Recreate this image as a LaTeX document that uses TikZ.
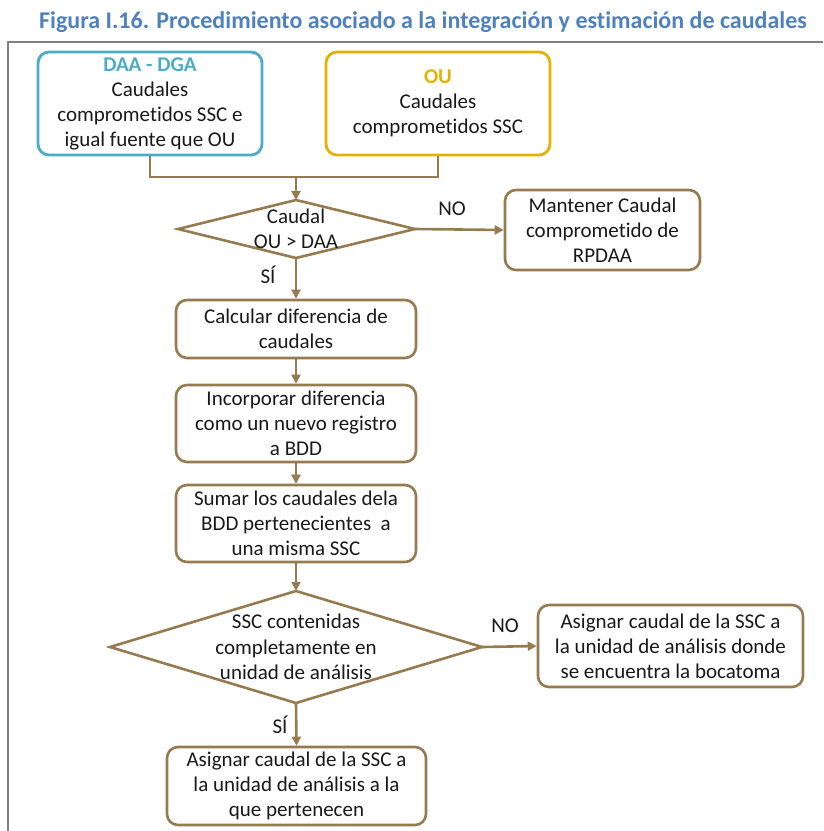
\documentclass[tikz,border=0pt]{standalone}
\usepackage{fontspec}
\setmainfont{Carlito}[Ligatures=NoCommon]
\usetikzlibrary{arrows.meta}
\definecolor{tan}{RGB}{150,122,80}
\definecolor{teal}{RGB}{75,172,198}
\definecolor{gold}{RGB}{228,178,0}
\definecolor{titleblue}{RGB}{79,129,189}
\definecolor{framegray}{RGB}{128,128,128}
\definecolor{ink}{RGB}{25,25,25}
\tikzset{
  box/.style={draw=tan, line width=2.6pt, rounded corners=11pt, align=center,
    inner sep=0pt, text=ink, font=\fontsize{21}{25}\selectfont},
  srcbox/.style={box, line width=2.8pt},
  decision/.style={draw=tan, line width=2.6pt, line join=miter},
  label/.style={inner sep=0pt, text=ink, font=\fontsize{21}{25.5}\selectfont, align=center},
  link/.style={draw=tan, line width=2.6pt},
  arrow/.style={link, -{Triangle[length=9pt,width=9pt]}},
}
\begin{document}
\begin{tikzpicture}[x=1pt,y=-1pt]
\useasboundingbox (0,0) rectangle (823,831);

% title and frame
\node[inner sep=0pt, text=titleblue, font=\fontsize{24}{28}\selectfont\bfseries] (title) at (423,22)
  {Figura I.16. Procedimiento asociado a la integración y estimación de caudales};
\draw[framegray, line width=2pt] (823,42) -- (7.5,42) -- (7.5,831);

% sources
\node[srcbox, draw=teal, minimum width=224pt, minimum height=103pt] (daa) at (150,103.5)
  {{\bfseries\color{teal}DAA - DGA}\\Caudales\\comprometidos SSC e\\igual fuente que OU};
\node[srcbox, draw=gold, minimum width=224pt, minimum height=103pt] (ou) at (438,103.5)
  {{\bfseries\color{gold}OU}\\Caudales\\comprometidos SSC};
\coordinate (join) at (296,177);

% first decision
\coordinate (d1t) at (296,200);
\coordinate (d1l) at (178,229);
\coordinate (d1r) at (415,229);
\coordinate (d1b) at (296,258);
\draw[decision] (d1t) -- (d1r) -- (d1b) -- (d1l) -- cycle;
\node[label] (d1text) at (296,229) {Caudal\\OU > DAA};

\node[box, minimum width=195pt, minimum height=80pt] (keep) at (602.5,230)
  {Mantener Caudal\\comprometido de\\RPDAA};

% main sequence
\node[box, minimum width=240pt, minimum height=58pt] (calc) at (296,329)
  {Calcular diferencia de\\caudales};
\node[box, minimum width=240pt, minimum height=77pt] (incorp) at (296,423.5)
  {Incorporar diferencia\\como un nuevo registro\\a BDD};
\node[box, minimum width=240pt, minimum height=77pt] (sum) at (296,523.5)
  {Sumar los caudales dela\\BDD pertenecientes\ \ a\\una misma SSC};

% second decision
\coordinate (d2t) at (296,591);
\coordinate (d2l) at (110,647);
\coordinate (d2r) at (482,647);
\coordinate (d2b) at (296,703);
\draw[decision] (d2t) -- (d2r) -- (d2b) -- (d2l) -- cycle;
\node[label] (d2text) at (296,647) {SSC contenidas\\completamente en\\unidad de análisis};

\node[box, minimum width=265pt, minimum height=82pt] (assignR) at (670.5,646)
  {Asignar caudal de la SSC a\\la unidad de análisis donde\\se encuentra la bocatoma};
\node[box, minimum width=259pt, minimum height=78pt] (assignB) at (296.5,786)
  {Asignar caudal de la SSC a\\la unidad de análisis a la\\que pertenecen};

% connectors
\draw[link] (daa.south) |- (join) -| (ou.south);
\draw[arrow] (join) -- (d1t);
\draw[arrow] (d1r) -- (keep.west);
\draw[arrow] (d1b) -- (calc.north);
\draw[arrow] (calc.south) -- (incorp.north);
\draw[arrow] (incorp.south) -- (sum.north);
\draw[arrow] (sum.south) -- (d2t);
\draw[arrow] (d2r) -- (assignR.west);
\draw[arrow] (d2b) -- (assignB.north);

% branch labels
\node[label] (no1) at (452,209) {NO};
\node[label] (si1) at (268,275) {SÍ};
\node[label] (no2) at (505,626) {NO};
\node[label] (si2) at (280,725) {SÍ};
\end{tikzpicture}
\end{document}
